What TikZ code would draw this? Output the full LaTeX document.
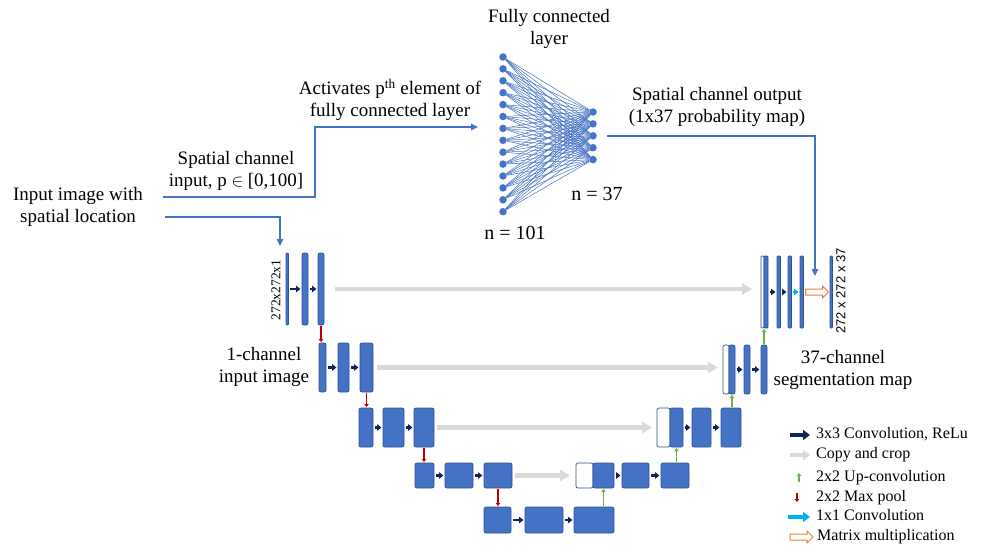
\documentclass[tikz,border=0pt]{standalone}
\usepackage{fontspec}
\setmainfont{Liberation Serif}
\newfontfamily\arialfont{Liberation Sans}
\usetikzlibrary{arrows.meta}
\usetikzlibrary{shapes.arrows}
\definecolor{unetblue}{HTML}{4472C4}
\definecolor{unetedge}{HTML}{2F528F}
\definecolor{convnavy}{HTML}{0E2557}
\definecolor{copygray}{HTML}{D9D9D9}
\definecolor{upgreen}{HTML}{70AD47}
\definecolor{poolred}{HTML}{C00000}
\definecolor{onecyan}{HTML}{00B0F0}
\definecolor{mmorange}{HTML}{ED7D31}
\tikzset{
	lbl/.style={align=center, inner sep=0pt, font=\fontsize{19}{22}\selectfont},
	lgtxt/.style={anchor=west, inner sep=0pt, text height=11pt, text depth=3.5pt, font=\fontsize{16}{19}\selectfont},
	dimlbl/.style={inner sep=0pt, rotate=90, font=\fontsize{13.5}{15}\selectfont},
	blk/.style={draw=unetedge, fill=unetblue, line width=0.7pt, rounded corners=2pt, inner sep=0pt, outer sep=0pt, anchor=north west},
	thinblk/.style={blk, rounded corners=0.8pt},
	hollow/.style={blk, fill=white},
	lv1/.style={minimum height=72pt},
	lv2/.style={minimum height=49pt},
	lv3/.style={minimum height=39pt},
	lv4/.style={minimum height=25pt},
	lv5/.style={minimum height=26pt},
	neuron/.style={circle, fill=unetblue, inner sep=0pt, minimum size=7.5pt},
	fcline/.style={draw=unetblue, line width=0.5pt},
	link/.style={draw=unetblue, line width=1.6pt},
	tip/.style={-{Triangle[length=7pt, width=6.5pt]}},
	conv/.style={draw=convnavy, line width=2.2pt, -{Triangle[length=4.5pt, width=6.5pt]}, shorten >=1.5pt, shorten <=1.5pt},
	onebyone/.style={conv, draw=onecyan},
	copy/.style={draw=copygray, line width=4.5pt, -{Triangle[length=10pt, width=11pt]}},
	pool/.style={draw=poolred, line width=1.3pt, -{Triangle[length=3pt, width=4.5pt]}, shorten >=1pt, shorten <=1pt},
	upconv/.style={pool, draw=upgreen},
	mmarrow/.style={single arrow, draw=mmorange, fill=white, line width=1pt, inner sep=2.5pt, minimum height=23pt, single arrow head extend=3pt},
	lgconv/.style={draw=convnavy, line width=4pt, -{Triangle[length=7pt, width=10pt]}},
	lgcopy/.style={lgconv, draw=copygray},
	lgone/.style={lgconv, draw=onecyan}
}

\begin{document}
\begin{tikzpicture}[x=1pt, y=-1pt]
	\useasboundingbox (0,0) rectangle (988,546);
	% texts
	\node[lbl] (inimg) at (78,207) {Input image with\\spatial location};
	\node[lbl] (spin) at (236,171) {Spatial channel\\input, p $\in$ [0,100]};
	\node[lbl] (act) at (390,100) {Activates p\textsuperscript{th} element of\\fully connected layer};
	\node[lbl] (fctitle) at (549,29) {Fully connected\\layer};
	\node[lbl] (spout) at (717,107) {Spatial channel output\\(1x37 probability map)};
	\node[lbl, font=\fontsize{20}{22}\selectfont] (n101) at (515,233) {n = 101};
	\node[lbl, font=\fontsize{20}{22}\selectfont] (n37) at (597,194) {n = 37};
	\node[lbl] (inch) at (264,367) {1-channel\\input image};
	\node[lbl] (segmap) at (843,370) {37-channel\\segmentation map};
	\node[dimlbl] (dimin) at (276,290) {272x272x1};
	\node[dimlbl, font=\arialfont\fontsize{13}{15}\selectfont] (dimout) at (841,291) {272 x 272 x 37};
	% fully connected layer
	\foreach \i in {1,...,14}
		\node[neuron] (fcl\i) at (503, 45.1+11.9*\i) {};
	\foreach \j in {1,...,5}
		\node[neuron] (fcr\j) at (593, 100.1+11.9*\j) {};
	\foreach \i in {1,...,14}
		\foreach \j in {1,...,5}
			\draw[fcline] (fcl\i) -- (fcr\j);
	% contracting path
	\node[thinblk, lv1, minimum width=2.5pt] (l1a) at (286,253) {};
	\node[blk, lv1, minimum width=6pt] (l1b) at (302,253) {};
	\node[blk, lv1, minimum width=6pt] (l1c) at (318,253) {};
	\node[blk, lv2, minimum width=7pt] (l2a) at (319,343) {};
	\node[blk, lv2, minimum width=11pt] (l2b) at (338,343) {};
	\node[blk, lv2, minimum width=13pt] (l2c) at (360,343) {};
	\node[blk, lv3, minimum width=14pt] (l3a) at (359,408) {};
	\node[blk, lv3, minimum width=21pt] (l3b) at (383,408) {};
	\node[blk, lv3, minimum width=20pt] (l3c) at (414,408) {};
	\node[blk, lv4, minimum width=19pt] (l4a) at (415,463) {};
	\node[blk, lv4, minimum width=28pt] (l4b) at (445,463) {};
	\node[blk, lv4, minimum width=28pt] (l4c) at (484,463) {};
	\node[blk, lv5, minimum width=27pt] (l5a) at (484,507) {};
	\node[blk, lv5, minimum width=38pt] (l5b) at (525,507) {};
	\node[blk, lv5, minimum width=40pt] (l5c) at (574,507) {};
	% expansive path
	\node[hollow, lv4, minimum width=17pt] (r4h) at (576,463) {};
	\node[blk, lv4, minimum width=21pt] (r4a) at (593,463) {};
	\node[blk, lv4, minimum width=27pt] (r4b) at (622,463) {};
	\node[blk, lv4, minimum width=28pt] (r4c) at (661,463) {};
	\node[hollow, lv3, minimum width=13pt] (r3h) at (657,408) {};
	\node[blk, lv3, minimum width=13pt] (r3a) at (670,408) {};
	\node[blk, lv3, minimum width=19pt] (r3b) at (692,408) {};
	\node[blk, lv3, minimum width=20pt] (r3c) at (721,408) {};
	\node[hollow, lv2, minimum width=6pt] (r2h) at (723,345) {};
	\node[blk, lv2, minimum width=6pt] (r2a) at (729,345) {};
	\node[blk, lv2, minimum width=6pt] (r2b) at (744,345) {};
	\node[blk, lv2, minimum width=6pt] (r2c) at (761,345) {};
	\node[thinblk, fill=white, lv1, minimum width=3pt] (r1h) at (761,256) {};
	\node[thinblk, lv1, minimum width=4pt] (r1a) at (764,256) {};
	\node[thinblk, lv1, minimum width=3.5pt] (r1b) at (777,256) {};
	\node[thinblk, lv1, minimum width=3.5pt] (r1c) at (788,256) {};
	\node[thinblk, lv1, minimum width=3.5pt] (r1d) at (800,256) {};
	\node[thinblk, lv1, minimum width=2.5pt] (r1out) at (830,256) {};
	\node[mmarrow] (mm) at (815.5,292) {};
	% convolutions
	\draw[conv] (l1a.east) -- (l1b.west);
	\draw[conv] (l1b.east) -- (l1c.west);
	\draw[conv] (l2a.east) -- (l2b.west);
	\draw[conv] (l2b.east) -- (l2c.west);
	\draw[conv] (l3a.east) -- (l3b.west);
	\draw[conv] (l3b.east) -- (l3c.west);
	\draw[conv] (l4a.east) -- (l4b.west);
	\draw[conv] (l4b.east) -- (l4c.west);
	\draw[conv] (l5a.east) -- (l5b.west);
	\draw[conv] (l5b.east) -- (l5c.west);
	\draw[conv] (r4a.east) -- (r4b.west);
	\draw[conv] (r4b.east) -- (r4c.west);
	\draw[conv] (r3a.east) -- (r3b.west);
	\draw[conv] (r3b.east) -- (r3c.west);
	\draw[conv] (r2a.east) -- (r2b.west);
	\draw[conv] (r2b.east) -- (r2c.west);
	\draw[conv] (r1a.east) -- (r1b.west);
	\draw[conv] (r1b.east) -- (r1c.west);
	\draw[onebyone] (r1c.east) -- (r1d.west);
	% copy and crop
	\draw[copy] ([xshift=11pt]l1c.east) -- ([xshift=-9pt]r1h.west |- l1c.east);
	\draw[copy] ([xshift=4pt]l2c.east) -- ([xshift=-5pt]r2h.west |- l2c.east);
	\draw[copy] ([xshift=3pt]l3c.east) -- ([xshift=-5pt]r3h.west |- l3c.east);
	\draw[copy] ([xshift=3pt]l4c.east) -- ([xshift=-6pt]r4h.west |- l4c.east);
	% max pool and up-convolution
	\draw[pool] (l1c.south) -- (l1c.south |- l2a.north);
	\draw[pool] (l2c.south) -- (l2c.south |- l3a.north);
	\draw[pool] (l3c.south) -- (l3c.south |- l4a.north);
	\draw[pool] (l4c.south) -- (l4c.south |- l5a.north);
	\draw[upconv] (r4a.south |- l5c.north) -- (r4a.south);
	\draw[upconv] (r3a.south |- r4c.north) -- (r3a.south);
	\draw[upconv] (r2a.south |- r3c.north) -- (r2a.south);
	\draw[upconv] (r2c.north) -- (r2c.north |- r1a.south);
	% spatial channel
	\coordinate (spstart) at (163,197);
	\coordinate (spturn) at (315,127);
	\coordinate (fcin) at (478,127);
	\coordinate (imstart) at (165,217);
	\coordinate (imtip) at (280,246);
	\coordinate (outtip) at (815,276);
	\draw[link, tip] (spstart) -| (spturn) -- (fcin);
	\draw[link, tip] (imstart) -| (imtip);
	\draw[link, tip] ([xshift=10pt]fcr3.east) -| (outtip);
	% legend
	\node[lgtxt] (lg1) at (816,435) {3x3 Convolution, ReLu};
	\node[lgtxt] (lg2) at (816,455) {Copy and crop};
	\node[lgtxt] (lg3) at (816,478) {2x2 Up-convolution};
	\node[lgtxt] (lg4) at (816,498) {2x2 Max pool};
	\node[lgtxt] (lg5) at (816,517) {1x1 Convolution};
	\node[lgtxt] (lg6) at (817,537) {Matrix multiplication};
	\draw[lgconv] ([xshift=-26pt]lg1.west) -- ([xshift=-6pt]lg1.west);
	\draw[lgcopy] ([xshift=-26pt]lg2.west) -- ([xshift=-6pt]lg2.west);
	\draw[upconv, line width=1.8pt] ([xshift=-17pt, yshift=-5pt]lg3.west) -- ([xshift=-17pt, yshift=6pt]lg3.west);
	\draw[pool, line width=1.8pt] ([xshift=-19pt, yshift=6pt]lg4.west) -- ([xshift=-19pt, yshift=-5pt]lg4.west);
	\draw[lgone] ([xshift=-28pt]lg5.west) -- ([xshift=-6pt]lg5.west);
	\node[mmarrow] (lgmm) at ([xshift=-17pt]lg6.west) {};
\end{tikzpicture}
\end{document}
